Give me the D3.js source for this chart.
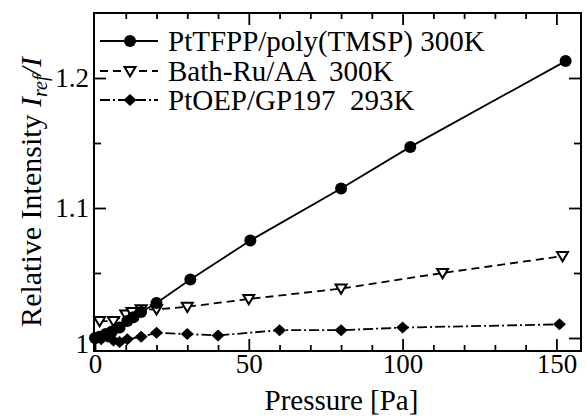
<!DOCTYPE html>
<html>
<head>
<meta charset="utf-8">
<script src="https://cdn.jsdelivr.net/npm/d3@7"></script>
<style>
  html, body { margin: 0; padding: 0; background: #fff; }
  svg { display: block; }
</style>
</head>
<body>
<svg id="chart" width="586" height="416"></svg>
<script>
// Pressure [Pa] and relative intensity I_ref/I for each sensor
const ptTfppP = [0, 1.5, 3.5, 5.5, 8, 10.5, 12.5, 15, 20, 31, 50.5, 80, 102.5, 153];
const ptTfppR = [1.000, 1.001, 1.003, 1.005, 1.008, 1.013, 1.016, 1.020, 1.027, 1.045, 1.075, 1.115, 1.147, 1.213];

const bathRuP = [1.5, 6, 10, 12, 15, 20, 30, 50, 80, 113, 152];
const bathRuR = [1.013, 1.013, 1.018, 1.020, 1.022, 1.022, 1.024, 1.030, 1.038, 1.050, 1.063];

const ptOepP = [0.5, 2, 4, 6, 8, 10.5, 15, 20, 30, 40, 60, 80, 100, 151];
const ptOepR = [1.000, 0.999, 1.001, 0.998, 0.997, 0.999, 1.001, 1.004, 1.003, 1.002, 1.006, 1.006, 1.008, 1.0105];

const seriesNames = ["PtTFPP/poly(TMSP) 300K", "Bath-Ru/AA  300K", "PtOEP/GP197  293K"];

const xMajorTicks = [0, 50, 100, 150];
const xMinorTicks = [10, 20, 30, 40, 60, 70, 80, 90, 110, 120, 130, 140];
const yMajorTicks = [1, 1.1, 1.2];
const yMinorTicks = [1.05, 1.15];

const SERIF = "'Liberation Serif', 'DejaVu Serif', serif";

const svg = d3.select("#chart").style("font-family", SERIF);
const frameL = 94, frameR = 581, frameT = 13, frameB = 351;

const x = d3.scaleLinear().domain([0, 158]).range([frameL + 1, frameR]);
const y = d3.scaleLinear().domain([0.99, 1.25]).range([frameB, frameT]);

const font = 27;

// frame ticks: major/minor, all pointing inward
function styleAxis(g) {
  g.attr("font-family", null).attr("font-size", null);
  g.select(".domain").remove();
  g.selectAll(".tick line").attr("stroke", "#000").attr("stroke-width", 1.8);
  g.selectAll(".tick text")
    .style("font-family", SERIF)
    .style("font-size", font + "px")
    .attr("fill", "#000");
}

svg.append("g").attr("transform", `translate(0,${frameB})`)
  .call(d3.axisBottom(x).tickValues(xMajorTicks).tickSize(-12).tickPadding(3).tickFormat(d3.format("d")))
  .call(styleAxis);
svg.append("g").attr("transform", `translate(0,${frameB})`)
  .call(d3.axisBottom(x).tickValues(xMinorTicks).tickSize(-6).tickFormat(""))
  .call(styleAxis);
svg.append("g").attr("transform", `translate(0,${frameT})`)
  .call(d3.axisTop(x).tickValues(xMajorTicks.slice(1)).tickSize(-12).tickFormat(""))
  .call(styleAxis);
svg.append("g").attr("transform", `translate(0,${frameT})`)
  .call(d3.axisTop(x).tickValues(xMinorTicks).tickSize(-6).tickFormat(""))
  .call(styleAxis);

const yLeft = svg.append("g").attr("transform", `translate(${frameL},0)`)
  .call(d3.axisLeft(y).tickValues(yMajorTicks).tickSize(-12).tickPadding(5).tickFormat(d => d === 1 ? "1" : d3.format(".1f")(d)))
  .call(styleAxis);
yLeft.selectAll(".tick text").filter(d => d === 1).attr("dy", "0.55em");
svg.append("g").attr("transform", `translate(${frameL},0)`)
  .call(d3.axisLeft(y).tickValues(yMinorTicks).tickSize(-7).tickFormat(""))
  .call(styleAxis);
svg.append("g").attr("transform", `translate(${frameR},0)`)
  .call(d3.axisRight(y).tickValues(yMajorTicks).tickSize(-12).tickFormat(""))
  .call(styleAxis);
svg.append("g").attr("transform", `translate(${frameR},0)`)
  .call(d3.axisRight(y).tickValues(yMinorTicks).tickSize(-7).tickFormat(""))
  .call(styleAxis);

// plot frame
svg.append("rect")
  .attr("x", frameL).attr("y", frameT)
  .attr("width", frameR - frameL).attr("height", frameB - frameT)
  .attr("fill", "none").attr("stroke", "#000").attr("stroke-width", 2);

const series = [
  { name: seriesNames[0], p: ptTfppP, r: ptTfppR, dash: null, marker: "circle" },
  { name: seriesNames[1], p: bathRuP, r: bathRuR, dash: "8,5", marker: "triangle" },
  { name: seriesNames[2], p: ptOepP, r: ptOepR, dash: "10,3,2,3", marker: "diamond" }
];

const line = d3.line().x(d => x(d[0])).y(d => y(d[1]));

function drawMarker(g, kind, cx, cy) {
  if (kind === "circle") {
    g.append("circle").attr("cx", cx).attr("cy", cy).attr("r", 6).attr("fill", "#000");
  } else if (kind === "triangle") {
    const s = 5.5;
    g.append("path")
      .attr("d", `M${cx - s},${cy - s * 0.75}L${cx + s},${cy - s * 0.75}L${cx},${cy + s * 0.95}Z`)
      .attr("fill", "#fff").attr("stroke", "#000").attr("stroke-width", 2);
  } else {
    const w = 6.5, h = 6;
    g.append("path")
      .attr("d", `M${cx - w},${cy}L${cx},${cy - h}L${cx + w},${cy}L${cx},${cy + h}Z`)
      .attr("fill", "#000");
  }
}

const plot = svg.append("g");
series.slice().reverse().forEach(s => {
  const pts = s.p.map((p, i) => [p, s.r[i]]);
  plot.append("path").datum(pts)
    .attr("d", line)
    .attr("fill", "none").attr("stroke", "#000").attr("stroke-width", 1.8)
    .attr("stroke-dasharray", s.dash);
  const mg = plot.append("g");
  pts.forEach(d => drawMarker(mg, s.marker, x(d[0]), y(d[1])));
});

// legend
const legendRows = [41, 71, 100];
series.forEach((s, i) => {
  const g = svg.append("g");
  const ly = legendRows[i];
  g.append("line").attr("x1", 100).attr("x2", 158).attr("y1", ly).attr("y2", ly)
    .attr("stroke", "#000").attr("stroke-width", 1.8).attr("stroke-dasharray", s.dash);
  drawMarker(g, s.marker, 130, ly);
  g.append("text").attr("x", 168).attr("y", ly).attr("dy", "0.33em")
    .style("font-family", SERIF).style("font-size", "29px")
    .style("white-space", "pre").text(s.name);
});

// axis titles
svg.append("text")
  .attr("x", (frameL + frameR) / 2 + 4).attr("y", 410)
  .attr("text-anchor", "middle")
  .style("font-family", SERIF).style("font-size", "29px")
  .text("Pressure [Pa]");

const yt = svg.append("text")
  .attr("transform", "translate(41,192) rotate(-90)")
  .attr("text-anchor", "middle")
  .style("font-family", SERIF).style("font-size", "30px");
yt.append("tspan").text("Relative Intensity ");
yt.append("tspan").style("font-style", "italic").text("I");
yt.append("tspan").style("font-style", "italic").style("font-size", "20px").attr("dy", 6).text("ref");
yt.append("tspan").style("font-style", "italic").attr("dy", -6).text("/I");
</script>
</body>
</html>
